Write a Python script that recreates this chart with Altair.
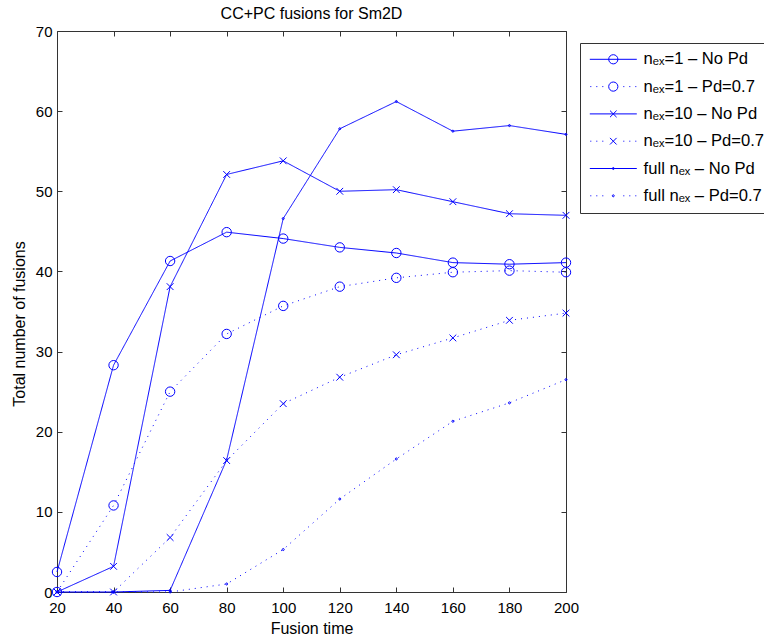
import altair as alt
import pandas as pd

# ---- data -------------------------------------------------------------
fusion_time = [20, 40, 60, 80, 100, 120, 140, 160, 180, 200]

nex1_no_pd = [2.5, 28.3, 41.3, 44.9, 44.1, 43.0, 42.3, 41.1, 40.9, 41.1]
nex1_pd07 = [0.0, 10.8, 25.0, 32.2, 35.7, 38.1, 39.2, 39.9, 40.1, 39.9]
nex10_no_pd = [0.0, 3.2, 38.1, 52.1, 53.8, 50.0, 50.2, 48.7, 47.2, 47.0]
nex10_pd07 = [0.0, 0.0, 6.8, 16.4, 23.5, 26.8, 29.6, 31.7, 33.9, 34.8]
full_no_pd = [0.0, 0.0, 0.2, 16.5, 46.6, 57.8, 61.2, 57.5, 58.2, 57.1]
full_pd07 = [0.0, 0.0, 0.0, 1.0, 5.3, 11.6, 16.6, 21.3, 23.6, 26.5]

series_labels = [
    "nₑₓ=1 – No Pd",
    "nₑₓ=1 – Pd=0.7",
    "nₑₓ=10 – No Pd",
    "nₑₓ=10 – Pd=0.7",
    "full nₑₓ – No Pd",
    "full nₑₓ – Pd=0.7",
]
series_values = [nex1_no_pd, nex1_pd07, nex10_no_pd, nex10_pd07, full_no_pd, full_pd07]

x_ticks = [20, 40, 60, 80, 100, 120, 140, 160, 180, 200]
y_ticks = [0, 10, 20, 30, 40, 50, 60, 70]

rows = []
for label, values in zip(series_labels, series_values):
    for t, v in zip(fusion_time, values):
        rows.append({"time": t, "value": v, "series": label})
df = pd.DataFrame(rows)

# ---- styling ----------------------------------------------------------
FONT = "Liberation Sans"
BLUE = "#0000ff"
FRAME = "#333333"
W, H = 509, 561

x_scale = alt.Scale(domain=[20, 200], nice=False, zero=False)
y_scale = alt.Scale(domain=[0, 70], nice=False, zero=False)

# line styles: solid for "No Pd", dotted for "Pd=0.7"
SOLID = [1, 0]
DOTTED = [1, 5]
dash_range = [SOLID, DOTTED, SOLID, DOTTED, SOLID, DOTTED]

# plot markers (unit paths are scaled by sqrt(size)/2)
MARK_X = "M-0.72,-0.72L0.72,0.72M-0.72,0.72L0.72,-0.72"
MARK_DOT = "M0.22,0A0.22,0.22,0,1,1,-0.22,0A0.22,0.22,0,1,1,0.22,0"
marker_range = ["circle", "circle", MARK_X, MARK_X, MARK_DOT, MARK_DOT]

# legend symbols: a line sample with the marker in the middle
LG_SOLID = "M-4.7,0L4.7,0"
LG_DOTS = ("M-4.6,0L-4.4,0M-3.4,0L-3.2,0M-2.2,0L-2.0,0"
           "M2.0,0L2.2,0M3.2,0L3.4,0M4.4,0L4.6,0")
LG_CIRCLE = "M0.92,0A0.92,0.92,0,1,1,-0.92,0A0.92,0.92,0,1,1,0.92,0"
LG_X = "M-0.66,-0.66L0.66,0.66M-0.66,0.66L0.66,-0.66"
LG_DOT = "M0.2,0A0.2,0.2,0,1,1,-0.2,0A0.2,0.2,0,1,1,0.2,0"
legend_range = [
    LG_SOLID + LG_CIRCLE,
    LG_DOTS + LG_CIRCLE,
    LG_SOLID + LG_X,
    LG_DOTS + LG_X,
    LG_SOLID + LG_DOT,
    LG_DOTS + LG_DOT,
]


def axis_frame(x_axis, y_axis):
    """Invisible layer that only carries a pair of axes."""
    return alt.Chart().mark_point(opacity=0).encode(
        x=alt.X("time:Q", scale=x_scale, axis=x_axis),
        y=alt.Y("value:Q", scale=y_scale, axis=y_axis),
    )


tick_style = dict(
    labels=False, title=None, domain=False, grid=False,
    ticks=True, tickSize=5, tickWidth=1, tickColor=FRAME,
)

# labelled axes (bottom / left), no tick marks
labelled = axis_frame(
    alt.Axis(
        orient="bottom", values=x_ticks, format="d", title="Fusion time",
        titleFont=FONT, titleFontSize=16, titleFontWeight="normal",
        titleColor="black", titleY=41, titleBaseline="alphabetic",
        labelFont=FONT, labelFontSize=15, labelColor="black",
        labelPadding=8, labelFlush=False, labelOverlap=False,
        ticks=False, domain=False, grid=False,
    ),
    alt.Axis(
        orient="left", values=y_ticks, format="d",
        title="Total number of fusions",
        titleFont=FONT, titleFontSize=16, titleFontWeight="normal",
        titleColor="black", titleX=-33, titleY=H / 2 + 12,
        titleBaseline="alphabetic",
        labelFont=FONT, labelFontSize=15, labelColor="black",
        labelPadding=5, labelFlush=False, labelOverlap=False,
        ticks=False, domain=False, grid=False,
    ),
)

# inward ticks on the bottom and left edges
ticks_bl = axis_frame(
    alt.Axis(orient="top", offset=-H, values=x_ticks, **tick_style),
    alt.Axis(orient="right", offset=-W, values=y_ticks, **tick_style),
)

# inward ticks on the top and right edges
ticks_tr = axis_frame(
    alt.Axis(orient="bottom", offset=-H, values=x_ticks, **tick_style),
    alt.Axis(orient="left", offset=-W, values=y_ticks, **tick_style),
)

lines = alt.Chart().mark_line(color=BLUE, strokeWidth=1).encode(
    x=alt.X("time:Q", scale=x_scale, axis=None),
    y=alt.Y("value:Q", scale=y_scale, axis=None),
    strokeDash=alt.StrokeDash(
        "series:N",
        scale=alt.Scale(domain=series_labels, range=dash_range),
        legend=None,
    ),
)

points = alt.Chart().mark_point(
    filled=False, color=BLUE, size=88, strokeWidth=1, opacity=1
).encode(
    x=alt.X("time:Q", scale=x_scale, axis=None),
    y=alt.Y("value:Q", scale=y_scale, axis=None),
    shape=alt.Shape(
        "series:N",
        scale=alt.Scale(domain=series_labels, range=marker_range),
        legend=None,
    ),
)

legend_layer = alt.Chart().mark_point(
    filled=False, color=BLUE, size=100, strokeWidth=1, opacity=0
).encode(
    x=alt.X("time:Q", scale=x_scale, axis=None),
    y=alt.Y("value:Q", scale=y_scale, axis=None),
    shape=alt.Shape(
        "series:N",
        scale=alt.Scale(domain=series_labels, range=legend_range),
        legend=alt.Legend(
            orient="none", legendX=523, legendY=12, title=None,
            direction="vertical", padding=8, rowPadding=10.3,
            symbolSize=100, symbolStrokeWidth=1, symbolOffset=17,
            symbolOpacity=1, symbolStrokeColor=BLUE,
            symbolFillColor="transparent",
            labelOffset=22, labelFont=FONT, labelFontSize=16.6,
            labelColor="black", labelLimit=400,
            strokeColor=FRAME, fillColor="white",
        ),
    ),
)

chart = (
    alt.layer(labelled, ticks_bl, ticks_tr, lines, points, legend_layer, data=df)
    .resolve_axis(x="independent", y="independent")
    .resolve_scale(shape="independent")
    .properties(
        width=W,
        height=H,
        title=alt.TitleParams(
            "CC+PC fusions for Sm2D", font=FONT, fontSize=16,
            fontWeight="normal", color="black", anchor="middle", offset=2,
        ),
        padding={"left": 57, "top": 31, "right": 198, "bottom": 44},
        autosize=alt.AutoSizeParams(type="none"),
        background="white",
    )
    .configure_view(stroke=FRAME, strokeWidth=1)
)

chart.save("out.html", embed_options={"renderer": "svg", "actions": False})
